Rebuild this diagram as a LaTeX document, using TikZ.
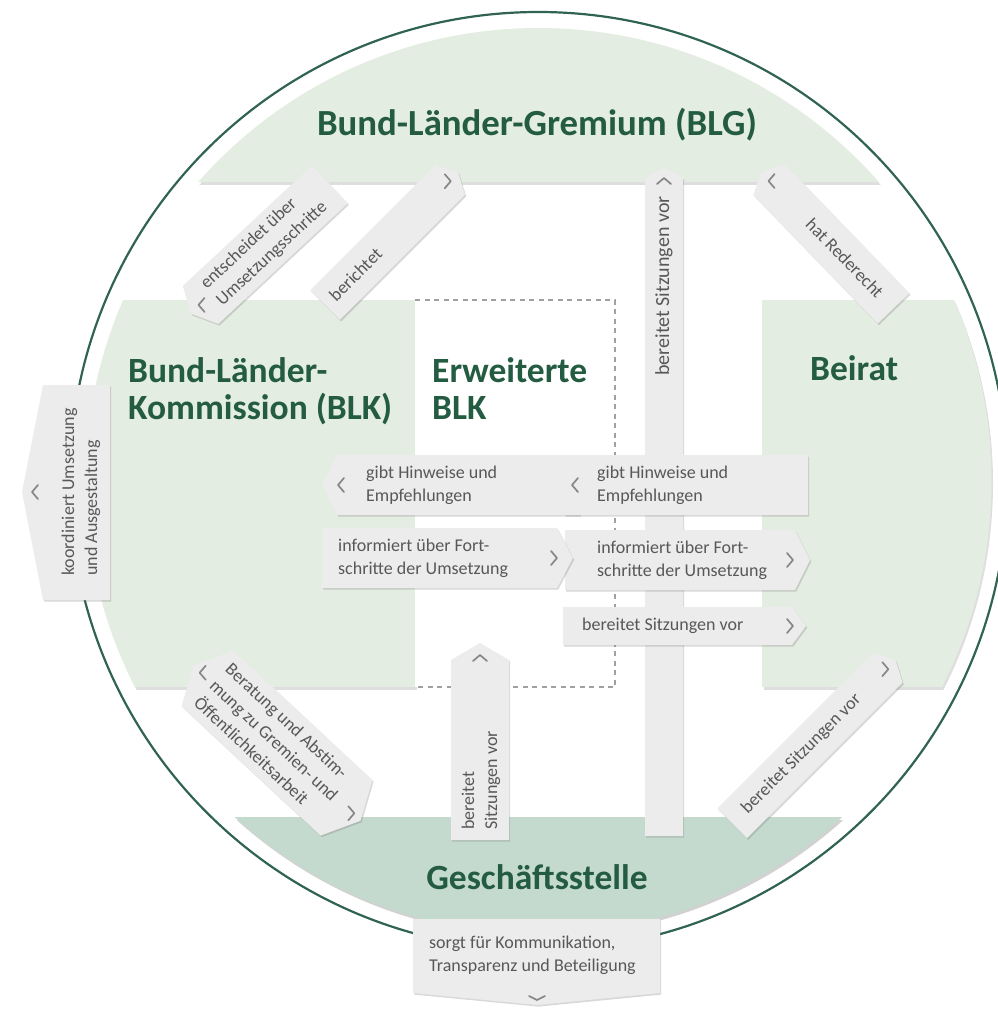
\documentclass[tikz,border=0pt]{standalone}
\usepackage{fontspec}
\setmainfont{Carlito}
\usetikzlibrary{shadows}
\definecolor{outl}{RGB}{48,100,80}
\definecolor{lgreen}{RGB}{228,237,225}
\definecolor{mgreen}{RGB}{197,218,206}
\definecolor{headc}{RGB}{36,92,66}
\definecolor{tagfill}{RGB}{236,236,236}
\definecolor{tagtext}{RGB}{88,88,88}
\definecolor{chevc}{RGB}{135,135,135}
\definecolor{dashc}{RGB}{160,160,160}
\tikzset{
  head/.style={font=\fontsize{35.5}{38}\selectfont\bfseries, text=headc, inner sep=0pt},
  tagbox/.style={fill=tagfill, drop shadow={shadow xshift=1.2pt, shadow yshift=-1.6pt, opacity=0.28, fill=black!55}},
  tagtxt/.style={font=\fontsize{18}{23}\selectfont, text=tagtext, align=left, inner sep=0pt},
  chevst/.style={draw=chevc, line width=1.7pt, line cap=round, line join=round},
  chevL/.pic={\draw[chevst] (4,-7) -- (-2,0) -- (4,7);},
  chevR/.pic={\draw[chevst] (-4,-7) -- (2,0) -- (-4,7);},
  chevU/.pic={\draw[chevst] (-7,4) -- (0,-2) -- (7,4);},
  chevD/.pic={\draw[chevst] (-8,-2) -- (0,2) -- (8,-2);},
}
\begin{document}
\begin{tikzpicture}[x=1pt,y=-1pt]
\useasboundingbox (0,0) rectangle (998,1017);
% outer circle
\begin{scope}
\clip (0,0) rectangle (998,1017);
\draw[outl, line width=2.2pt] (538.5,481) circle[radius=469pt];
\end{scope}
% shadows of regions
\begin{scope}[shift={(1.5,2.5)}]
\clip (538.5,481) circle[radius=453pt];
\fill[black!13] (0,0) rectangle (998,182);
\fill[black!13] (0,300) rectangle (415,687);
\fill[black!13] (762,300) rectangle (998,687);
\fill[black!18] (0,817) rectangle (998,1017);
\end{scope}
% regions
\begin{scope}
\clip (538.5,481) circle[radius=453pt];
\fill[lgreen] (0,0) rectangle (998,182);
\fill[lgreen] (0,300) rectangle (415,687);
\fill[lgreen] (762,300) rectangle (998,687);
\fill[mgreen] (0,817) rectangle (998,1017);
\end{scope}
% Erweiterte BLK
\fill[white] (415,300) rectangle (615,687);
\draw[dashc, line width=2.8pt, dash pattern=on 5pt off 4.5pt] (415,300) -- (615,300) -- (615,687) -- (415,687);
% headings
\node[head, font=\fontsize{36.8}{40}\selectfont\bfseries, anchor=base] (blg) at (537,135) {Bund-Länder-Gremium (BLG)};
\node[head, anchor=base west] (blkA) at (128,382) {Bund-Länder-};
\node[head, anchor=base west] (blkB) at (128,419) {Kommission (BLK)};
\node[head, anchor=base west] (eblkA) at (432,382) {Erweiterte};
\node[head, anchor=base west] (eblkB) at (432,419) {BLK};
\node[head, anchor=base west] (beirat) at (810,380) {Beirat};
\node[head, anchor=base] (gs) at (537,889) {Geschäftsstelle};
% long vertical bar
\path[tagbox] (645,836) -- (645,178) -- (664,168) -- (683,178) -- (683,836) -- cycle;
\pic at (664,180) {chevU};
\node[tagtxt, font=\fontsize{20}{24}\selectfont, rotate=90] (bar) at (664,286) {bereitet Sitzungen vor};
% horizontal tags
\path[tagbox] (322,485) -- (337,455) -- (580,455) -- (580,515) -- (337,515) -- cycle;
\pic at (340,485) {chevL};
\node[tagtxt, anchor=west] (e1) at (366,485) {gibt Hinweise und\\Empfehlungen};
\path[tagbox] (550,485) -- (565,455) -- (808,455) -- (808,515) -- (565,515) -- cycle;
\pic at (574,485) {chevL};
\node[tagtxt, anchor=west] (e2) at (597,485) {gibt Hinweise und\\Empfehlungen};
\path[tagbox] (565,530) -- (795,530) -- (810,560) -- (795,590) -- (565,590) -- cycle;
\pic at (791,560) {chevR};
\node[tagtxt, anchor=west] (f2) at (597,560) {informiert über Fort-\\schritte der Umsetzung};
\path[tagbox] (322,528) -- (557,528) -- (573,558) -- (557,588) -- (322,588) -- cycle;
\pic at (555,558) {chevR};
\node[tagtxt, anchor=west] (f1) at (338,558) {informiert über Fort-\\schritte der Umsetzung};
\path[tagbox] (563,607) -- (792,607) -- (806,626) -- (792,645) -- (563,645) -- cycle;
\pic at (791,626) {chevR};
\node[tagtxt, anchor=west] (g) at (582,626) {bereitet Sitzungen vor};
% left vertical tag
\path[tagbox] (43,385) -- (110,385) -- (110,600) -- (43,600) -- (22,492) -- cycle;
\pic at (34,492) {chevL};
\node[tagtxt, rotate=90] (d) at (81,492) {koordiniert Umsetzung\\und Ausgestaltung};
% vertical tag to Erweiterte BLK
\path[tagbox] (451,840) -- (451,660) -- (480,643) -- (509,660) -- (509,840) -- cycle;
\pic at (480,657) {chevU};
\node[tagtxt, rotate=90, anchor=west] (i) at (481,830) {bereitet\\Sitzungen vor};
% bottom box
\path[tagbox] (413,919) -- (660,919) -- (660,993) -- (537,1005) -- (413,993) -- cycle;
\pic at (537,998) {chevD};
\node[tagtxt, anchor=west] (k) at (429,955) {sorgt für Kommunikation,\\Transparenz und Beteiligung};
% diagonal tags
\begin{scope}[shift={(260.5,249)}, rotate=43]
\path[tagbox] (-95,0) -- (-82,-26) -- (95,-26) -- (95,26) -- (-82,26) -- cycle;
\pic at (-82,0) {chevL};
\node[tagtxt, transform shape] (a) at (5,0) {entscheidet über\\Umsetzungsschritte};
\end{scope}
\begin{scope}[shift={(391.5,238.5)}, rotate=45]
\path[tagbox] (-94,-21) -- (83,-21) -- (94,0) -- (83,21) -- (-94,21) -- cycle;
\pic at (81,0) {chevR};
\node[tagtxt, transform shape] (b) at (-51,0) {berichtet};
\end{scope}
\begin{scope}[shift={(827.5,240)}, rotate=-46]
\path[tagbox] (-95,0) -- (-84,-22) -- (95,-22) -- (95,22) -- (-84,22) -- cycle;
\pic at (-82,0) {chevL};
\node[tagtxt, transform shape] (c) at (25,0) {hat Rederecht};
\end{scope}
\begin{scope}[shift={(277,743)}, rotate=-43]
\path[tagbox] (-114,0) -- (-95,-38) -- (95,-38) -- (114,0) -- (95,38) -- (-95,38) -- cycle;
\pic at (-103,0) {chevL};
\pic at (103,0) {chevR};
\node[tagtxt, transform shape] (h) at (-4,0) {Beratung und Abstim-\\mung zu Gremien- und\\Öffentlichkeitsarbeit};
\end{scope}
\begin{scope}[shift={(813.5,742)}, rotate=45]
\path[tagbox] (-115,-21) -- (105,-21) -- (116,0) -- (105,21) -- (-115,21) -- cycle;
\pic at (103,0) {chevR};
\node[tagtxt, transform shape] (j) at (-17,0) {bereitet Sitzungen vor};
\end{scope}
\end{tikzpicture}
\end{document}
